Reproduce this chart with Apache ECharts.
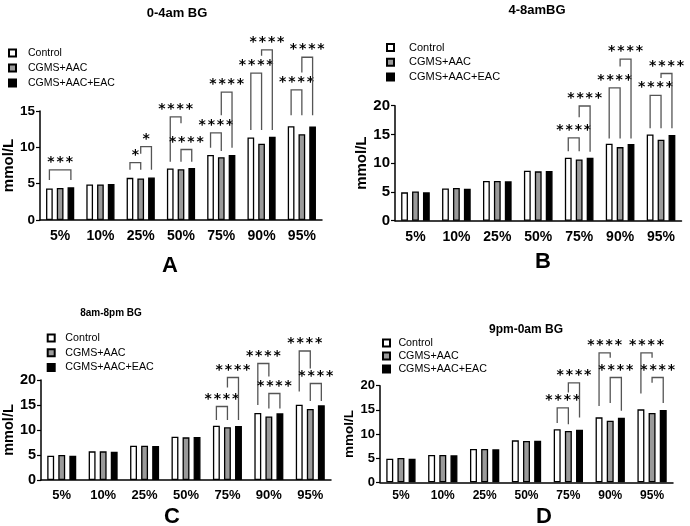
<!DOCTYPE html>
<html>
<head>
<meta charset="utf-8">
<script src="https://cdn.jsdelivr.net/npm/echarts@6/dist/echarts.min.js"></script>
<style>html,body{margin:0;padding:0;background:#fff}#c{width:690px;height:526px}</style>
</head>
<body>
<div id="c"></div>
<script>
const categories = ['5%', '10%', '25%', '50%', '75%', '90%', '95%'];
const seriesNames = ['Control', 'CGMS+AAC', 'CGMS+AAC+EAC'];
const panelTitles = ['0-4am BG', '4-8amBG', '8am-8pm BG', '9pm-0am BG'];
const panelLetters = ['A', 'B', 'C', 'D'];
const yLabel = 'mmol/L';
const yMaxA = 15, yMaxOther = 20, yStep = 5;

// Panel A (0-4am)
const controlA = [4.35, 4.9, 5.8, 7.1, 8.95, 11.35, 12.9];
const aacA     = [4.4, 4.9, 5.72, 6.98, 8.65, 10.5, 11.8];
const eacA     = [4.5, 4.97, 5.85, 7.15, 8.95, 11.45, 12.85];
// Panel B (4-8am)
const controlB = [4.93, 5.62, 6.9, 8.7, 10.95, 13.4, 15.0];
const aacB     = [5.08, 5.68, 6.9, 8.58, 10.65, 12.8, 14.1];
const eacB     = [4.93, 5.57, 6.84, 8.64, 10.93, 13.33, 14.9];
// Panel C (8am-8pm)
const controlC = [4.87, 5.73, 6.87, 8.67, 10.87, 13.4, 15.05];
const aacC     = [5.0, 5.73, 6.87, 8.53, 10.55, 12.7, 14.2];
const eacC     = [4.87, 5.67, 6.8, 8.6, 10.8, 13.33, 14.93];
// Panel D (9pm-0am)
const controlD = [4.9, 5.66, 6.9, 8.69, 10.97, 13.45, 15.1];
const aacD     = [5.03, 5.66, 6.9, 8.55, 10.62, 12.76, 14.34];
const eacD     = [4.9, 5.59, 6.83, 8.62, 10.9, 13.38, 14.97];

// significance brackets: [category, fromBar, toBar, top, fromLegBottom, toLegBottom, label]
const bracketsA = [
  ['5%', 0, 2, 6.9, 5.5, 5.5, '***'],
  ['25%', 0, 1, 7.9, 6.9, 6.9, '*'],
  ['25%', 1, 2, 10.1, 9.1, 6.9, '*'],
  ['50%', 0, 1, 14.2, 8.0, 13.3, '****'],
  ['50%', 1, 2, 9.7, 8.0, 8.0, '****'],
  ['75%', 0, 1, 12.0, 9.95, 9.5, '****'],
  ['75%', 1, 2, 17.6, 14.4, 9.95, '****'],
  ['90%', 0, 1, 20.2, 12.4, 12.4, '****'],
  ['90%', 1, 2, 23.4, 22.6, 12.4, '****'],
  ['95%', 0, 1, 17.9, 14.4, 14.4, '****'],
  ['95%', 1, 2, 22.4, 20.3, 14.4, '****']
];
const bracketsB = [
  ['75%', 0, 1, 14.4, 12.1, 12.1, '****'],
  ['75%', 1, 2, 19.95, 18.0, 12.0, '****'],
  ['90%', 0, 1, 23.1, 14.3, 14.3, '****'],
  ['90%', 1, 2, 28.1, 26.8, 14.3, '****'],
  ['95%', 0, 1, 21.8, 16.1, 16.1, '****'],
  ['95%', 1, 2, 25.6, 24.8, 16.1, '****']
];
const bracketsC = [
  ['75%', 0, 1, 14.7, 12.0, 12.0, '****'],
  ['75%', 1, 2, 20.5, 18.5, 12.0, '****'],
  ['90%', 0, 1, 23.3, 15.0, 20.7, '****'],
  ['90%', 1, 2, 17.3, 14.3, 14.3, '****'],
  ['95%', 0, 1, 25.8, 17.7, 22.3, '****'],
  ['95%', 1, 2, 19.3, 15.8, 15.8, '****']
];
const bracketsD = [
  ['75%', 0, 1, 15.4, 12.3, 12.0, '****'],
  ['75%', 1, 2, 20.6, 18.6, 13.4, '****'],
  ['90%', 0, 1, 26.8, 15.8, 25.8, '****'],
  ['90%', 1, 2, 21.7, 16.4, 14.8, '****'],
  ['95%', 0, 1, 26.8, 18.4, 25.8, '****'],
  ['95%', 1, 2, 21.7, 20.6, 16.4, '****']
];

const FONT = '"Liberation Sans", Arial, sans-serif';
const STAR_FONT = 'bold 14px "DejaVu Sans", sans-serif';
const STAR_PITCH = 9.2;
const barStyles = [
  {color: '#ffffff', borderColor: '#000', borderWidth: 1.3},
  {color: '#9a9a9a', borderColor: '#000', borderWidth: 1.3},
  {color: '#000000', borderColor: '#000', borderWidth: 1.3}
];

const panels = [
  {values: [controlA, aacA, eacA], brackets: bracketsA, max: yMaxA,
   grid: {left: 40, right: 368, top: 111, bottom: 306},
   title: {x: 177, y: 6.5, size: 13}, letter: {x: 170, y: 255},
   legend: {left: 8, top: 47.5, gap: 4, pad: 7, size: 10.5},
   nameGap: 17, nameSize: 15, yLab: 13.5, xLab: 14, xMargin: 9},
  {values: [controlB, aacB, eacB], brackets: bracketsB, max: yMaxOther,
   grid: {left: 395, right: 8.5, top: 105.7, bottom: 305.3},
   title: {x: 537, y: 3.5, size: 13}, letter: {x: 543, y: 251},
   legend: {left: 386, top: 42, gap: 3.8, pad: 10, size: 11},
   nameGap: 23, nameSize: 15, yLab: 15, xLab: 14, xMargin: 9},
  {values: [controlC, aacC, eacC], brackets: bracketsC, max: yMaxOther,
   grid: {left: 39, right: 359, top: 380, bottom: 46},
   title: {x: 111, y: 308, size: 10}, letter: {x: 172, y: 506},
   legend: {left: 46.7, top: 332.5, gap: 3.7, pad: 5.6, size: 10.7},
   nameGap: 21, nameSize: 14.5, yLab: 14.5, xLab: 13, xMargin: 9},
  {values: [controlD, aacD, eacD], brackets: bracketsD, max: yMaxOther,
   grid: {left: 380, right: 17, top: 385.7, bottom: 43.7},
   title: {x: 526, y: 324, size: 12}, letter: {x: 544, y: 506},
   legend: {left: 382, top: 337.5, gap: 2, pad: 3.4, size: 10.7},
   nameGap: 19, nameSize: 13.5, yLab: 13, xLab: 12, xMargin: 7}
];

function bracketSeries(idx, list) {
  return {
    type: 'custom', xAxisIndex: idx, yAxisIndex: idx, clip: false, silent: true, z: 5,
    data: list.map(b => [categories.indexOf(b[0]), b[1], b[2], b[3], b[4], b[5]]),
    encode: {x: 0, y: 3},
    renderItem: function (params, api) {
      const cat = api.value(0);
      const band = api.size([1, 0])[0];
      const bw = band * 0.7 / 4.2, step = bw * 1.6;
      const top = api.coord([cat, api.value(3)]);
      const xa = top[0] + (api.value(1) - 1) * step;
      const xb = top[0] + (api.value(2) - 1) * step;
      const ya = api.coord([cat, api.value(4)])[1];
      const yb = api.coord([cat, api.value(5)])[1];
      const label = list[params.dataIndex][6];
      const mid = (xa + xb) / 2;
      const children = [
        {type: 'polyline', shape: {points: [[xa, ya], [xa, top[1]], [xb, top[1]], [xb, yb]]},
         style: {stroke: '#555', lineWidth: 1.3, fill: 'none'}}
      ];
      const chars = label.split('');
      chars.forEach((ch, j) => {
        children.push({type: 'text', style: {text: ch, x: mid + (j - (chars.length - 1) / 2) * STAR_PITCH,
          y: top[1] - 7.5, align: 'center', verticalAlign: 'middle', font: STAR_FONT, fill: '#000'}});
      });
      return {type: 'group', children: children};
    }
  };
}

const option = {
  animation: false,
  backgroundColor: '#fff',
  title: [], legend: [], grid: [], xAxis: [], yAxis: [], series: []
};

panels.forEach((p, i) => {
  option.title.push({text: panelTitles[i], left: p.title.x, top: p.title.y, textAlign: 'center', padding: 0,
    textStyle: {fontFamily: FONT, fontWeight: 'bold', fontSize: p.title.size, color: '#000'}});
  option.title.push({text: panelLetters[i], left: p.letter.x, top: p.letter.y, textAlign: 'center', padding: 0,
    textStyle: {fontFamily: FONT, fontWeight: 'bold', fontSize: 22, color: '#000'}});
  option.legend.push({data: seriesNames, orient: 'vertical', left: p.legend.left, top: p.legend.top,
    itemWidth: 7, itemHeight: 7, itemGap: p.legend.gap, icon: 'rect', selectedMode: false, padding: 0,
    textStyle: {fontFamily: FONT, fontSize: p.legend.size, color: '#000', padding: [0, 0, 0, p.legend.pad]}});
  option.grid.push(p.grid);
  option.xAxis.push({type: 'category', gridIndex: i, data: categories,
    axisLine: {lineStyle: {color: '#000', width: 1.5}},
    axisTick: {alignWithLabel: true, length: 3, lineStyle: {color: '#000', width: 1.2}},
    axisLabel: {fontFamily: FONT, fontWeight: 'bold', fontSize: p.xLab, color: '#000', margin: p.xMargin}});
  option.yAxis.push({type: 'value', gridIndex: i, min: 0, max: p.max, interval: yStep,
    name: yLabel, nameLocation: 'middle', nameGap: p.nameGap,
    nameTextStyle: {fontFamily: FONT, fontWeight: 'bold', fontSize: p.nameSize, color: '#000'},
    axisLine: {show: true, lineStyle: {color: '#000', width: 1.5}},
    axisTick: {show: true, length: 4, lineStyle: {color: '#000', width: 1.2}},
    splitLine: {show: false},
    axisLabel: {fontFamily: FONT, fontWeight: 'bold', fontSize: p.yLab, color: '#000', margin: 5}});
  p.values.forEach((vals, k) => {
    option.series.push({type: 'bar', name: seriesNames[k], xAxisIndex: i, yAxisIndex: i, data: vals,
      barGap: '60%', barCategoryGap: '30%', itemStyle: barStyles[k]});
  });
  option.series.push(bracketSeries(i, p.brackets));
});

const chart = echarts.init(document.getElementById('c'), null, {renderer: 'canvas'});
chart.setOption(option);
</script>
</body>
</html>
